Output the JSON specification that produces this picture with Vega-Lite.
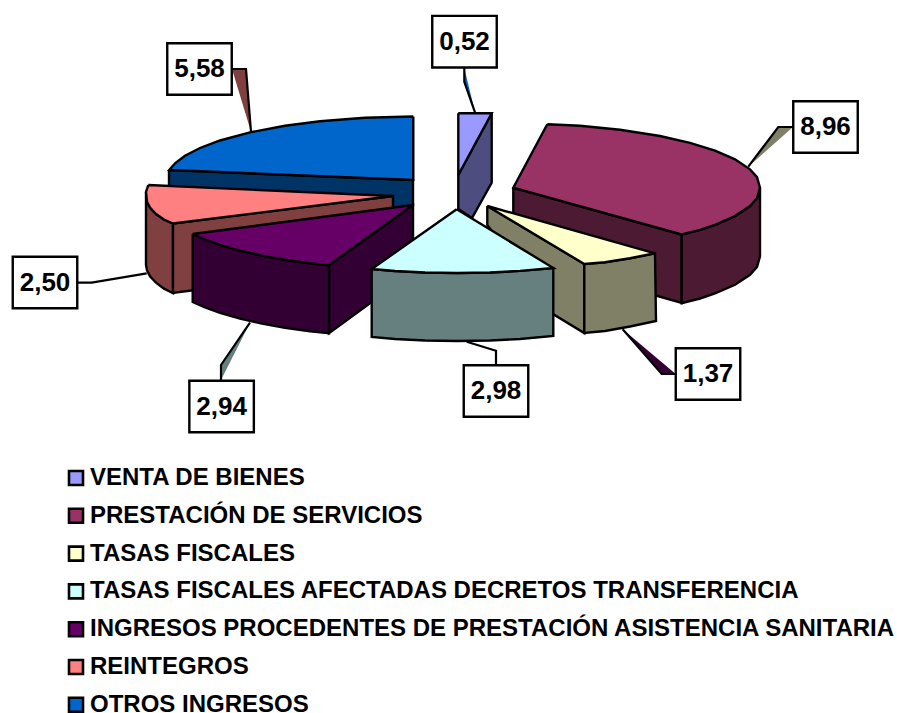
{"$schema":"https://vega.github.io/schema/vega-lite/v6.json","width":897,"height":713,"padding":0,"autosize":{"type":"fit","contains":"padding"},"background":"white","view":{"stroke":null},
"datasets":{
"caras":[
{"s":"OTROS INGRESOS","p":"o1","i":1,"x":169,"y":170},{"s":"OTROS INGRESOS","p":"o1","i":2,"x":413,"y":180},{"s":"OTROS INGRESOS","p":"o1","i":3,"x":413,"y":206},{"s":"OTROS INGRESOS","p":"o1","i":4,"x":393,"y":215},{"s":"OTROS INGRESOS","p":"o1","i":5,"x":169,"y":192},{"s":"OTROS INGRESOS","p":"o1","i":6,"x":169,"y":170},
{"s":"VENTA DE BIENES","p":"v1","i":1,"x":458.3,"y":175},{"s":"VENTA DE BIENES","p":"v1","i":2,"x":491.7,"y":113.3},{"s":"VENTA DE BIENES","p":"v1","i":3,"x":491.7,"y":182.7},{"s":"VENTA DE BIENES","p":"v1","i":4,"x":472,"y":218},{"s":"VENTA DE BIENES","p":"v1","i":5,"x":458.3,"y":209},{"s":"VENTA DE BIENES","p":"v1","i":6,"x":458.3,"y":175},
{"s":"PRESTACIÓN DE SERVICIOS","p":"m1","i":1,"x":513.3,"y":187.7},{"s":"PRESTACIÓN DE SERVICIOS","p":"m1","i":2,"x":681.7,"y":234.5},{"s":"PRESTACIÓN DE SERVICIOS","p":"m1","i":3,"x":681.7,"y":303},{"s":"PRESTACIÓN DE SERVICIOS","p":"m1","i":4,"x":640,"y":291},{"s":"PRESTACIÓN DE SERVICIOS","p":"m1","i":5,"x":513.3,"y":240},{"s":"PRESTACIÓN DE SERVICIOS","p":"m1","i":6,"x":513.3,"y":187.7},
{"s":"PRESTACIÓN DE SERVICIOS","p":"m2","i":1,"x":681.7,"y":234.5},{"s":"PRESTACIÓN DE SERVICIOS","p":"m2","i":2,"x":700,"y":229.8},{"s":"PRESTACIÓN DE SERVICIOS","p":"m2","i":3,"x":715,"y":224.8},{"s":"PRESTACIÓN DE SERVICIOS","p":"m2","i":4,"x":735,"y":216.1},{"s":"PRESTACIÓN DE SERVICIOS","p":"m2","i":5,"x":750,"y":206.1},{"s":"PRESTACIÓN DE SERVICIOS","p":"m2","i":6,"x":757,"y":198.2},{"s":"PRESTACIÓN DE SERVICIOS","p":"m2","i":7,"x":760,"y":187.7},{"s":"PRESTACIÓN DE SERVICIOS","p":"m2","i":8,"x":760,"y":256.4},{"s":"PRESTACIÓN DE SERVICIOS","p":"m2","i":9,"x":757,"y":266.9},{"s":"PRESTACIÓN DE SERVICIOS","p":"m2","i":10,"x":750,"y":274.8},{"s":"PRESTACIÓN DE SERVICIOS","p":"m2","i":11,"x":735,"y":284.8},{"s":"PRESTACIÓN DE SERVICIOS","p":"m2","i":12,"x":715,"y":293.5},{"s":"PRESTACIÓN DE SERVICIOS","p":"m2","i":13,"x":700,"y":298.5},{"s":"PRESTACIÓN DE SERVICIOS","p":"m2","i":14,"x":681.7,"y":303.2},{"s":"PRESTACIÓN DE SERVICIOS","p":"m2","i":15,"x":681.7,"y":234.5},
{"s":"REINTEGROS","p":"r1","i":1,"x":146,"y":192},{"s":"REINTEGROS","p":"r1","i":2,"x":147,"y":201.7},{"s":"REINTEGROS","p":"r1","i":3,"x":150,"y":207.5},{"s":"REINTEGROS","p":"r1","i":4,"x":156,"y":214},{"s":"REINTEGROS","p":"r1","i":5,"x":164,"y":219.5},{"s":"REINTEGROS","p":"r1","i":6,"x":173,"y":223.5},{"s":"REINTEGROS","p":"r1","i":7,"x":173,"y":293},{"s":"REINTEGROS","p":"r1","i":8,"x":164,"y":288.7},{"s":"REINTEGROS","p":"r1","i":9,"x":156,"y":282.7},{"s":"REINTEGROS","p":"r1","i":10,"x":150,"y":276.2},{"s":"REINTEGROS","p":"r1","i":11,"x":147,"y":270.4},{"s":"REINTEGROS","p":"r1","i":12,"x":146,"y":265},{"s":"REINTEGROS","p":"r1","i":13,"x":146,"y":192},
{"s":"REINTEGROS","p":"r2","i":1,"x":173,"y":223.5},{"s":"REINTEGROS","p":"r2","i":2,"x":393,"y":196},{"s":"REINTEGROS","p":"r2","i":3,"x":393,"y":240},{"s":"REINTEGROS","p":"r2","i":4,"x":195,"y":290},{"s":"REINTEGROS","p":"r2","i":5,"x":173,"y":293},{"s":"REINTEGROS","p":"r2","i":6,"x":173,"y":223.5},
{"s":"TASAS FISCALES","p":"c1","i":1,"x":487.3,"y":206},{"s":"TASAS FISCALES","p":"c1","i":2,"x":584.3,"y":264},{"s":"TASAS FISCALES","p":"c1","i":3,"x":584.3,"y":333},{"s":"TASAS FISCALES","p":"c1","i":4,"x":553,"y":314},{"s":"TASAS FISCALES","p":"c1","i":5,"x":487.3,"y":225},{"s":"TASAS FISCALES","p":"c1","i":6,"x":487.3,"y":206},
{"s":"TASAS FISCALES","p":"c2","i":1,"x":584.3,"y":264},{"s":"TASAS FISCALES","p":"c2","i":2,"x":605,"y":262.3},{"s":"TASAS FISCALES","p":"c2","i":3,"x":630,"y":258.2},{"s":"TASAS FISCALES","p":"c2","i":4,"x":655,"y":253.3},{"s":"TASAS FISCALES","p":"c2","i":5,"x":656,"y":321},{"s":"TASAS FISCALES","p":"c2","i":6,"x":630,"y":326.5},{"s":"TASAS FISCALES","p":"c2","i":7,"x":605,"y":331},{"s":"TASAS FISCALES","p":"c2","i":8,"x":584.3,"y":333},{"s":"TASAS FISCALES","p":"c2","i":9,"x":584.3,"y":264},
{"s":"INGRESOS PROCEDENTES DE PRESTACIÓN ASISTENCIA SANITARIA","p":"g2","i":1,"x":329,"y":265.2},{"s":"INGRESOS PROCEDENTES DE PRESTACIÓN ASISTENCIA SANITARIA","p":"g2","i":2,"x":413,"y":205},{"s":"INGRESOS PROCEDENTES DE PRESTACIÓN ASISTENCIA SANITARIA","p":"g2","i":3,"x":413,"y":272},{"s":"INGRESOS PROCEDENTES DE PRESTACIÓN ASISTENCIA SANITARIA","p":"g2","i":4,"x":329,"y":333.2},{"s":"INGRESOS PROCEDENTES DE PRESTACIÓN ASISTENCIA SANITARIA","p":"g2","i":5,"x":329,"y":265.2},
{"s":"INGRESOS PROCEDENTES DE PRESTACIÓN ASISTENCIA SANITARIA","p":"g1","i":1,"x":192.7,"y":234},{"s":"INGRESOS PROCEDENTES DE PRESTACIÓN ASISTENCIA SANITARIA","p":"g1","i":2,"x":205,"y":239.5},{"s":"INGRESOS PROCEDENTES DE PRESTACIÓN ASISTENCIA SANITARIA","p":"g1","i":3,"x":220,"y":244.9},{"s":"INGRESOS PROCEDENTES DE PRESTACIÓN ASISTENCIA SANITARIA","p":"g1","i":4,"x":240,"y":250.7},{"s":"INGRESOS PROCEDENTES DE PRESTACIÓN ASISTENCIA SANITARIA","p":"g1","i":5,"x":262,"y":255.6},{"s":"INGRESOS PROCEDENTES DE PRESTACIÓN ASISTENCIA SANITARIA","p":"g1","i":6,"x":285,"y":259.7},{"s":"INGRESOS PROCEDENTES DE PRESTACIÓN ASISTENCIA SANITARIA","p":"g1","i":7,"x":310,"y":263.2},{"s":"INGRESOS PROCEDENTES DE PRESTACIÓN ASISTENCIA SANITARIA","p":"g1","i":8,"x":329,"y":265.2},{"s":"INGRESOS PROCEDENTES DE PRESTACIÓN ASISTENCIA SANITARIA","p":"g1","i":9,"x":329,"y":333.2},{"s":"INGRESOS PROCEDENTES DE PRESTACIÓN ASISTENCIA SANITARIA","p":"g1","i":10,"x":310,"y":331.2},{"s":"INGRESOS PROCEDENTES DE PRESTACIÓN ASISTENCIA SANITARIA","p":"g1","i":11,"x":285,"y":327.7},{"s":"INGRESOS PROCEDENTES DE PRESTACIÓN ASISTENCIA SANITARIA","p":"g1","i":12,"x":262,"y":323.6},{"s":"INGRESOS PROCEDENTES DE PRESTACIÓN ASISTENCIA SANITARIA","p":"g1","i":13,"x":240,"y":318.7},{"s":"INGRESOS PROCEDENTES DE PRESTACIÓN ASISTENCIA SANITARIA","p":"g1","i":14,"x":220,"y":312.9},{"s":"INGRESOS PROCEDENTES DE PRESTACIÓN ASISTENCIA SANITARIA","p":"g1","i":15,"x":205,"y":307.5},{"s":"INGRESOS PROCEDENTES DE PRESTACIÓN ASISTENCIA SANITARIA","p":"g1","i":16,"x":192.7,"y":302},{"s":"INGRESOS PROCEDENTES DE PRESTACIÓN ASISTENCIA SANITARIA","p":"g1","i":17,"x":192.7,"y":234},
{"s":"TASAS FISCALES AFECTADAS DECRETOS TRANSFERENCIA","p":"t1","i":1,"x":371.7,"y":269},{"s":"TASAS FISCALES AFECTADAS DECRETOS TRANSFERENCIA","p":"t1","i":2,"x":395,"y":271},{"s":"TASAS FISCALES AFECTADAS DECRETOS TRANSFERENCIA","p":"t1","i":3,"x":425,"y":272.5},{"s":"TASAS FISCALES AFECTADAS DECRETOS TRANSFERENCIA","p":"t1","i":4,"x":457,"y":273},{"s":"TASAS FISCALES AFECTADAS DECRETOS TRANSFERENCIA","p":"t1","i":5,"x":490,"y":272.5},{"s":"TASAS FISCALES AFECTADAS DECRETOS TRANSFERENCIA","p":"t1","i":6,"x":520,"y":270.9},{"s":"TASAS FISCALES AFECTADAS DECRETOS TRANSFERENCIA","p":"t1","i":7,"x":553.3,"y":268},{"s":"TASAS FISCALES AFECTADAS DECRETOS TRANSFERENCIA","p":"t1","i":8,"x":553.3,"y":336},{"s":"TASAS FISCALES AFECTADAS DECRETOS TRANSFERENCIA","p":"t1","i":9,"x":520,"y":339},{"s":"TASAS FISCALES AFECTADAS DECRETOS TRANSFERENCIA","p":"t1","i":10,"x":490,"y":340.5},{"s":"TASAS FISCALES AFECTADAS DECRETOS TRANSFERENCIA","p":"t1","i":11,"x":457,"y":341},{"s":"TASAS FISCALES AFECTADAS DECRETOS TRANSFERENCIA","p":"t1","i":12,"x":425,"y":340.5},{"s":"TASAS FISCALES AFECTADAS DECRETOS TRANSFERENCIA","p":"t1","i":13,"x":395,"y":339},{"s":"TASAS FISCALES AFECTADAS DECRETOS TRANSFERENCIA","p":"t1","i":14,"x":371.7,"y":337},{"s":"TASAS FISCALES AFECTADAS DECRETOS TRANSFERENCIA","p":"t1","i":15,"x":371.7,"y":269}
],
"tapas":[
{"s":"VENTA DE BIENES","i":1,"x":458.3,"y":113.3},{"s":"VENTA DE BIENES","i":2,"x":491.7,"y":113.3},{"s":"VENTA DE BIENES","i":3,"x":458.3,"y":175},{"s":"VENTA DE BIENES","i":4,"x":458.3,"y":113.3},
{"s":"PRESTACIÓN DE SERVICIOS","i":1,"x":547.3,"y":124.3},{"s":"PRESTACIÓN DE SERVICIOS","i":2,"x":580,"y":125.8},{"s":"PRESTACIÓN DE SERVICIOS","i":3,"x":620,"y":129.7},{"s":"PRESTACIÓN DE SERVICIOS","i":4,"x":660,"y":136},{"s":"PRESTACIÓN DE SERVICIOS","i":5,"x":690,"y":142.8},{"s":"PRESTACIÓN DE SERVICIOS","i":6,"x":715,"y":150.6},{"s":"PRESTACIÓN DE SERVICIOS","i":7,"x":735,"y":159.3},{"s":"PRESTACIÓN DE SERVICIOS","i":8,"x":750,"y":169.3},{"s":"PRESTACIÓN DE SERVICIOS","i":9,"x":757,"y":177.2},{"s":"PRESTACIÓN DE SERVICIOS","i":10,"x":760,"y":187.7},{"s":"PRESTACIÓN DE SERVICIOS","i":11,"x":757,"y":198.2},{"s":"PRESTACIÓN DE SERVICIOS","i":12,"x":750,"y":206.1},{"s":"PRESTACIÓN DE SERVICIOS","i":13,"x":735,"y":216.1},{"s":"PRESTACIÓN DE SERVICIOS","i":14,"x":715,"y":224.8},{"s":"PRESTACIÓN DE SERVICIOS","i":15,"x":700,"y":229.8},{"s":"PRESTACIÓN DE SERVICIOS","i":16,"x":681.7,"y":234.5},{"s":"PRESTACIÓN DE SERVICIOS","i":17,"x":513.3,"y":187.7},{"s":"PRESTACIÓN DE SERVICIOS","i":18,"x":547.3,"y":124.3},
{"s":"TASAS FISCALES","i":1,"x":487.3,"y":206},{"s":"TASAS FISCALES","i":2,"x":655,"y":253.3},{"s":"TASAS FISCALES","i":3,"x":630,"y":258.2},{"s":"TASAS FISCALES","i":4,"x":605,"y":262.3},{"s":"TASAS FISCALES","i":5,"x":584.3,"y":264},{"s":"TASAS FISCALES","i":6,"x":487.3,"y":206},
{"s":"TASAS FISCALES AFECTADAS DECRETOS TRANSFERENCIA","i":1,"x":456.7,"y":209.3},{"s":"TASAS FISCALES AFECTADAS DECRETOS TRANSFERENCIA","i":2,"x":553.3,"y":268},{"s":"TASAS FISCALES AFECTADAS DECRETOS TRANSFERENCIA","i":3,"x":520,"y":270.9},{"s":"TASAS FISCALES AFECTADAS DECRETOS TRANSFERENCIA","i":4,"x":490,"y":272.5},{"s":"TASAS FISCALES AFECTADAS DECRETOS TRANSFERENCIA","i":5,"x":457,"y":273},{"s":"TASAS FISCALES AFECTADAS DECRETOS TRANSFERENCIA","i":6,"x":425,"y":272.5},{"s":"TASAS FISCALES AFECTADAS DECRETOS TRANSFERENCIA","i":7,"x":395,"y":271},{"s":"TASAS FISCALES AFECTADAS DECRETOS TRANSFERENCIA","i":8,"x":371.7,"y":269},{"s":"TASAS FISCALES AFECTADAS DECRETOS TRANSFERENCIA","i":9,"x":456.7,"y":209.3},
{"s":"INGRESOS PROCEDENTES DE PRESTACIÓN ASISTENCIA SANITARIA","i":1,"x":192.7,"y":234},{"s":"INGRESOS PROCEDENTES DE PRESTACIÓN ASISTENCIA SANITARIA","i":2,"x":413,"y":205},{"s":"INGRESOS PROCEDENTES DE PRESTACIÓN ASISTENCIA SANITARIA","i":3,"x":329,"y":265.2},{"s":"INGRESOS PROCEDENTES DE PRESTACIÓN ASISTENCIA SANITARIA","i":4,"x":310,"y":263.2},{"s":"INGRESOS PROCEDENTES DE PRESTACIÓN ASISTENCIA SANITARIA","i":5,"x":285,"y":259.7},{"s":"INGRESOS PROCEDENTES DE PRESTACIÓN ASISTENCIA SANITARIA","i":6,"x":262,"y":255.6},{"s":"INGRESOS PROCEDENTES DE PRESTACIÓN ASISTENCIA SANITARIA","i":7,"x":240,"y":250.7},{"s":"INGRESOS PROCEDENTES DE PRESTACIÓN ASISTENCIA SANITARIA","i":8,"x":220,"y":244.9},{"s":"INGRESOS PROCEDENTES DE PRESTACIÓN ASISTENCIA SANITARIA","i":9,"x":205,"y":239.5},{"s":"INGRESOS PROCEDENTES DE PRESTACIÓN ASISTENCIA SANITARIA","i":10,"x":192.7,"y":234},
{"s":"REINTEGROS","i":1,"x":148.3,"y":185},{"s":"REINTEGROS","i":2,"x":393,"y":196},{"s":"REINTEGROS","i":3,"x":173,"y":223.5},{"s":"REINTEGROS","i":4,"x":164,"y":219.5},{"s":"REINTEGROS","i":5,"x":156,"y":214},{"s":"REINTEGROS","i":6,"x":150,"y":207.5},{"s":"REINTEGROS","i":7,"x":147,"y":201.7},{"s":"REINTEGROS","i":8,"x":146,"y":192},{"s":"REINTEGROS","i":9,"x":148.3,"y":185},
{"s":"OTROS INGRESOS","i":1,"x":413.3,"y":116.5},{"s":"OTROS INGRESOS","i":2,"x":413.3,"y":180},{"s":"OTROS INGRESOS","i":3,"x":169.3,"y":170},{"s":"OTROS INGRESOS","i":4,"x":175,"y":163.3},{"s":"OTROS INGRESOS","i":5,"x":185,"y":155.8},{"s":"OTROS INGRESOS","i":6,"x":200,"y":148},{"s":"OTROS INGRESOS","i":7,"x":220,"y":140.5},{"s":"OTROS INGRESOS","i":8,"x":250,"y":132.4},{"s":"OTROS INGRESOS","i":9,"x":285,"y":125.7},{"s":"OTROS INGRESOS","i":10,"x":320,"y":121.2},{"s":"OTROS INGRESOS","i":11,"x":365,"y":117.7},{"s":"OTROS INGRESOS","i":12,"x":413.3,"y":116.5}
],
"guias":[
{"s":"VENTA DE BIENES","i":1,"x":464.3,"y":68},{"s":"VENTA DE BIENES","i":2,"x":464.3,"y":81.7},{"s":"VENTA DE BIENES","i":3,"x":475,"y":112.3},
{"s":"PRESTACIÓN DE SERVICIOS","i":1,"x":793,"y":127},{"s":"PRESTACIÓN DE SERVICIOS","i":2,"x":778.3,"y":127},{"s":"PRESTACIÓN DE SERVICIOS","i":3,"x":748.3,"y":166.7},
{"s":"TASAS FISCALES","i":1,"x":622.7,"y":329.3},{"s":"TASAS FISCALES","i":2,"x":661.7,"y":374},{"s":"TASAS FISCALES","i":3,"x":675.7,"y":374},
{"s":"TASAS FISCALES AFECTADAS DECRETOS TRANSFERENCIA","i":1,"x":466.7,"y":341.7},{"s":"TASAS FISCALES AFECTADAS DECRETOS TRANSFERENCIA","i":2,"x":496,"y":350.7},{"s":"TASAS FISCALES AFECTADAS DECRETOS TRANSFERENCIA","i":3,"x":496,"y":365},
{"s":"INGRESOS PROCEDENTES DE PRESTACIÓN ASISTENCIA SANITARIA","i":1,"x":250,"y":322.7},{"s":"INGRESOS PROCEDENTES DE PRESTACIÓN ASISTENCIA SANITARIA","i":2,"x":221,"y":365},{"s":"INGRESOS PROCEDENTES DE PRESTACIÓN ASISTENCIA SANITARIA","i":3,"x":221,"y":380},
{"s":"REINTEGROS","i":1,"x":77.3,"y":282.7},{"s":"REINTEGROS","i":2,"x":91.7,"y":282.7},{"s":"REINTEGROS","i":3,"x":146.7,"y":273.3},
{"s":"OTROS INGRESOS","i":1,"x":232,"y":69},{"s":"OTROS INGRESOS","i":2,"x":246,"y":69},{"s":"OTROS INGRESOS","i":3,"x":251,"y":131.7}
],
"etiquetas":[
{"s":"VENTA DE BIENES","valor":"0,52","x":464.5,"y":41.7},
{"s":"PRESTACIÓN DE SERVICIOS","valor":"8,96","x":825.5,"y":127},
{"s":"TASAS FISCALES","valor":"1,37","x":708,"y":374},
{"s":"TASAS FISCALES AFECTADAS DECRETOS TRANSFERENCIA","valor":"2,98","x":496,"y":391},
{"s":"INGRESOS PROCEDENTES DE PRESTACIÓN ASISTENCIA SANITARIA","valor":"2,94","x":221.6,"y":406.5},
{"s":"REINTEGROS","valor":"2,50","x":45,"y":282.5},
{"s":"OTROS INGRESOS","valor":"5,58","x":199.5,"y":69}
]},
"layer":[
{"data":{"name":"guias"},"mark":{"type":"line","stroke":"black","strokeWidth":2.2},
"encoding":{"x":{"field":"x","type":"quantitative","scale":{"domain":[0,897]},"axis":null},"y":{"field":"y","type":"quantitative","scale":{"domain":[713,0]},"axis":null},"order":{"field":"i"},"detail":{"field":"s"},
"fill":{"field":"s","legend":null,"scale":{"domain":["VENTA DE BIENES","PRESTACIÓN DE SERVICIOS","TASAS FISCALES","TASAS FISCALES AFECTADAS DECRETOS TRANSFERENCIA","INGRESOS PROCEDENTES DE PRESTACIÓN ASISTENCIA SANITARIA","REINTEGROS","OTROS INGRESOS"],"range":["#0066CC","#808066","#330033","#FFFFFF","#668080","#FFFFFF","#804040"]}}}},
{"data":{"name":"caras"},"mark":{"type":"line","stroke":"black","strokeWidth":2.4},
"encoding":{"x":{"field":"x","type":"quantitative","scale":{"domain":[0,897]},"axis":null},"y":{"field":"y","type":"quantitative","scale":{"domain":[713,0]},"axis":null},"order":{"field":"i"},"detail":{"field":"p"},
"fill":{"field":"s","legend":null,"scale":{"domain":["VENTA DE BIENES","PRESTACIÓN DE SERVICIOS","TASAS FISCALES","TASAS FISCALES AFECTADAS DECRETOS TRANSFERENCIA","INGRESOS PROCEDENTES DE PRESTACIÓN ASISTENCIA SANITARIA","REINTEGROS","OTROS INGRESOS"],"range":["#4D4D80","#4D1A33","#808066","#668080","#330033","#804040","#003366"]}}}},
{"data":{"name":"tapas"},"mark":{"type":"line","stroke":"black","strokeWidth":2.4},
"encoding":{"x":{"field":"x","type":"quantitative","scale":{"domain":[0,897]},"axis":null},"y":{"field":"y","type":"quantitative","scale":{"domain":[713,0]},"axis":null},"order":{"field":"i"},"detail":{"field":"s"},
"fill":{"field":"s","scale":{"domain":["VENTA DE BIENES","PRESTACIÓN DE SERVICIOS","TASAS FISCALES","TASAS FISCALES AFECTADAS DECRETOS TRANSFERENCIA","INGRESOS PROCEDENTES DE PRESTACIÓN ASISTENCIA SANITARIA","REINTEGROS","OTROS INGRESOS"],"range":["#9999FF","#993366","#FFFFCC","#CCFFFF","#660066","#FF8080","#0066CC"]},
"legend":{"title":null,"orient":"none","legendX":64,"legendY":466,"symbolType":"square","symbolSize":196,"symbolStrokeColor":"black","symbolStrokeWidth":2.6,"labelFont":"Liberation Sans","labelFontWeight":"bold","labelFontSize":24,"labelColor":"black","labelOffset":2,"rowPadding":11.8,"labelLimit":900}}}},
{"data":{"name":"etiquetas"},"mark":{"type":"point","shape":"M-1.25,-1H1.25V1H-1.25Z","size":2663,"filled":true,"fill":"white","stroke":"black","strokeWidth":2.4,"opacity":1},
"encoding":{"x":{"field":"x","type":"quantitative","scale":{"domain":[0,897]},"axis":null},"y":{"field":"y","type":"quantitative","scale":{"domain":[713,0]},"axis":null}}},
{"data":{"name":"etiquetas"},"mark":{"type":"text","font":"Liberation Sans","fontWeight":"bold","fontSize":26,"color":"black","align":"center","baseline":"middle"},
"encoding":{"x":{"field":"x","type":"quantitative","scale":{"domain":[0,897]},"axis":null},"y":{"field":"y","type":"quantitative","scale":{"domain":[713,0]},"axis":null},"text":{"field":"valor"}}}
],
"resolve":{"scale":{"fill":"independent"},"legend":{"fill":"independent"}}
}
